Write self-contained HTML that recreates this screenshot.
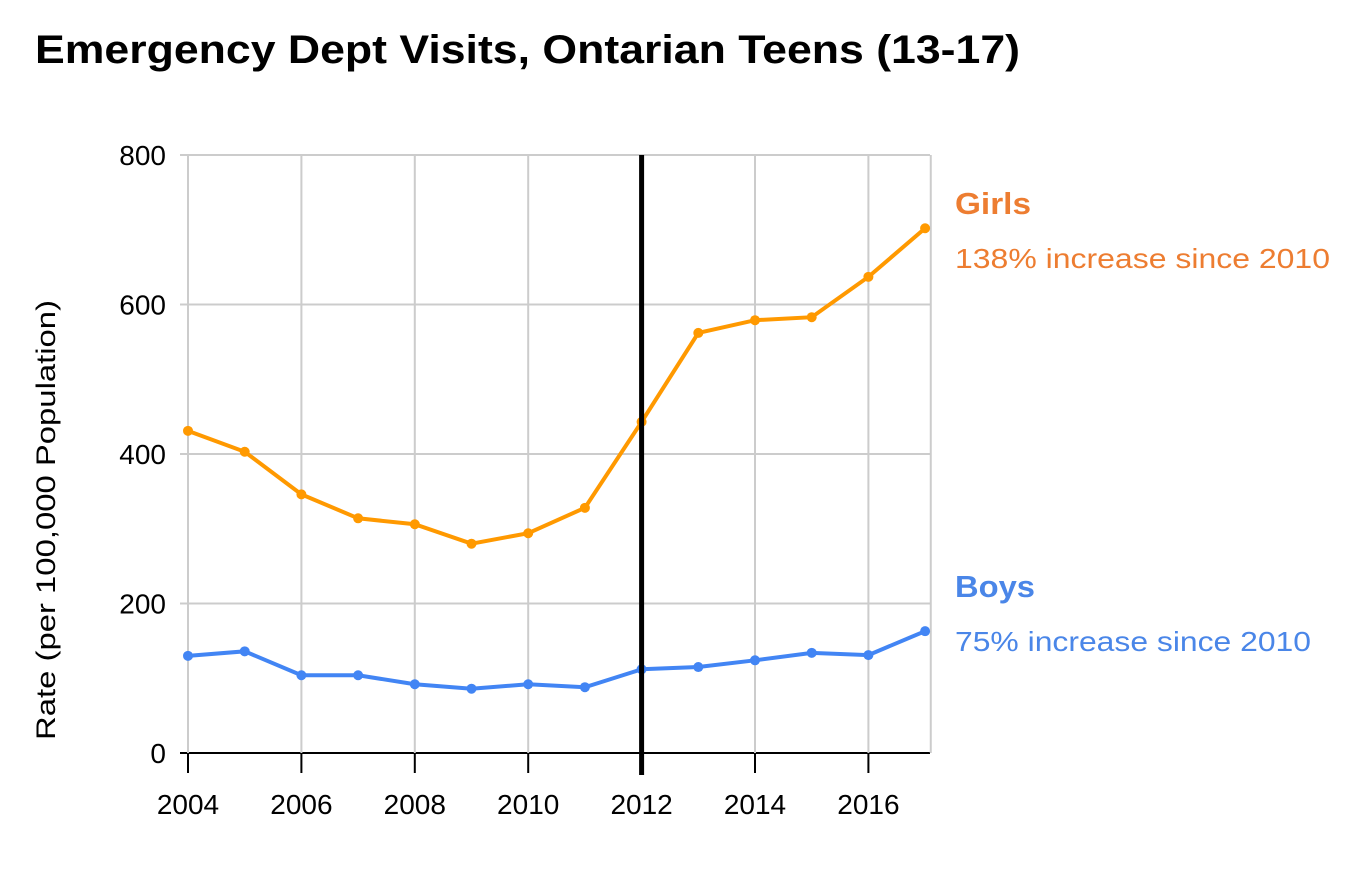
<!DOCTYPE html>
<html><head><meta charset="utf-8"><style>
body{margin:0;background:#fff;width:1370px;height:868px;overflow:hidden;font-family:"Liberation Sans",sans-serif}
</style></head><body>
<svg width="1370" height="868">
<text x="35" y="63" font-size="40" font-weight="bold" fill="#000" textLength="985" lengthAdjust="spacingAndGlyphs">Emergency Dept Visits, Ontarian Teens (13-17)</text>
<g id="grid"></g>
<g id="axes"></g>
<g id="lines"></g>
<text transform="translate(55,520) rotate(-90)" text-anchor="middle" font-size="27" fill="#000" textLength="440" lengthAdjust="spacingAndGlyphs">Rate (per 100,000 Population)</text>
<text x="955" y="214" font-size="31" font-weight="bold" fill="#ED7D31" textLength="76" lengthAdjust="spacingAndGlyphs">Girls</text>
<text x="955" y="268" font-size="28" fill="#ED7D31" textLength="375" lengthAdjust="spacingAndGlyphs">138% increase since 2010</text>
<text x="955" y="597" font-size="31" font-weight="bold" fill="#4A86E8" textLength="80" lengthAdjust="spacingAndGlyphs">Boys</text>
<text x="955" y="651" font-size="28" fill="#4A86E8" textLength="356" lengthAdjust="spacingAndGlyphs">75% increase since 2010</text>
</svg>
<script>
const years=[2004,2005,2006,2007,2008,2009,2010,2011,2012,2013,2014,2015,2016,2017];
const girls=[431,403,346,314,306,280,294,328,443,562,579,583,637,702];
const boys=[130,136,104,104,92,86,92,88,112,115,124,134,131,163];
const yTicks=[0,200,400,600,800];
const xTicks=[2004,2006,2008,2010,2012,2014,2016];
const NS="http://www.w3.org/2000/svg";
const x=v=>188+(v-2004)*56.7;
const y=v=>753-v*0.7475;
function mk(p,t,a){const e=document.createElementNS(NS,t);for(const k in a)e.setAttribute(k,a[k]);p.appendChild(e);return e;}
const g=document.getElementById('grid'),ax=document.getElementById('axes'),L=document.getElementById('lines');
yTicks.forEach(v=>{
 const l=mk(g,'line',{x1:180,x2:930,y1:y(v),y2:y(v),stroke:v===0?'#000':'#ccc','stroke-width':2});
 
 
 const t=mk(ax,'text',{x:166,y:y(v)+10,'text-anchor':'end','font-size':28,fill:'#000'});t.textContent=v;
 
 
});
xTicks.concat([2017.1]).forEach(v=>{
 const l=mk(g,'line',{x1:x(v),x2:x(v),y1:y(800),y2:y(0),stroke:'#ccc','stroke-width':2});
 
 
});
xTicks.forEach(v=>{
 const tk=mk(ax,'line',{x1:x(v),x2:x(v),y1:y(0),y2:y(0)+20,stroke:'#000','stroke-width':2});
 
 
 const t=mk(ax,'text',{x:x(v),y:814,'text-anchor':'middle','font-size':28,fill:'#000'});t.textContent=v;
 
 
});
function series(d,c,n){
 const p=mk(L,'polyline',{points:d.map((v,i)=>x(years[i])+','+y(v)).join(' '),fill:'none',stroke:c,'stroke-width':4});
 
 
 d.forEach((v,i)=>{const c2=mk(L,'circle',{cx:x(years[i]),cy:y(v),r:5,fill:c});
 
 });
}
series(girls,'#FF9900','girls');
series(boys,'#4285F4','boys');
const vl=mk(L,'line',{x1:x(2012),x2:x(2012),y1:155,y2:775,stroke:'#000','stroke-width':5});


</script>
</body></html>
